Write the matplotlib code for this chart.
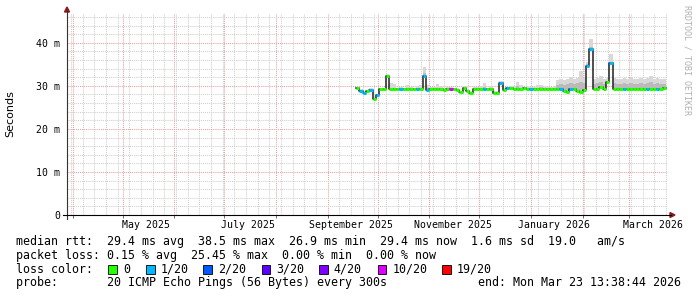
import datetime as dt
import numpy as np
import matplotlib
matplotlib.use("Agg")
import matplotlib.pyplot as plt
import matplotlib.dates as mdates
import matplotlib.transforms as mtrans
from matplotlib.lines import Line2D
from matplotlib.patches import Rectangle, Polygon

# ---- data ----
end_time = dt.datetime(2026, 3, 23, 13, 38, 44)
start_time = end_time - dt.timedelta(days=360)
first_sample = dt.datetime(2025, 9, 18)
step_days = 2

median_ms = [29.4, 28.9, 28.4, 28.8, 29.0, 26.9, 27.9, 29.2, 29.2, 32.4,
             29.3, 29.3, 29.3, 29.3, 29.2, 29.3, 29.3, 29.2, 29.3, 29.3,
             32.2, 29.1, 29.3, 29.3, 29.3, 29.2, 29.0, 29.3, 29.3, 29.3,
             29.0, 28.5, 29.5, 28.9, 28.3, 29.3, 29.3, 29.3, 29.3, 29.2,
             29.3, 28.4, 28.3, 30.7, 29.1, 29.4, 29.5, 29.3, 29.3, 29.3,
             29.4, 29.3, 29.3, 29.3, 29.2, 29.3, 29.3, 29.3, 29.3, 29.3,
             29.3, 29.2, 28.8, 28.6, 29.3, 29.3, 28.9, 28.6, 29.0, 34.7,
             38.5, 29.3, 29.3, 29.8, 29.3, 30.8, 35.2, 29.3, 29.3, 29.3,
             29.2, 29.3, 29.3, 29.3, 29.3, 29.3, 29.2, 29.3, 29.3, 29.3,
             29.3, 29.3, 29.4]

smoke_mid_ms = [29.5, 29.0, 28.6, 28.9, 29.1, 27.1, 28.0, 29.3, 29.3, 32.5,
                29.6, 29.5, 29.4, 29.4, 29.3, 29.5, 29.4, 29.3, 29.4, 29.5,
                32.9, 29.5, 29.4, 29.4, 29.6, 29.3, 29.1, 29.4, 29.4, 29.4,
                29.1, 28.6, 29.6, 29.0, 28.4, 29.4, 29.4, 29.5, 29.8, 29.3,
                29.4, 28.5, 28.4, 30.8, 29.3, 29.5, 29.6, 29.5, 29.9, 29.6,
                29.5, 29.5, 29.4, 29.5, 29.6, 29.7, 29.4, 29.4, 29.4, 29.5,
                30.3, 30.5, 30.2, 30.4, 30.7, 30.4, 30.6, 31.0, 30.6, 35.0,
                39.0, 30.5, 30.6, 30.9, 30.4, 31.2, 35.6, 30.6, 30.5, 30.4,
                30.6, 30.4, 30.7, 30.5, 30.4, 30.6, 30.5, 30.6, 30.8, 30.4,
                30.6, 30.4, 30.5]

smoke_hi_ms = [29.7, 29.2, 28.8, 29.1, 29.4, 27.3, 28.2, 29.5, 29.6, 32.7,
               30.6, 30.4, 29.6, 29.7, 29.6, 30.1, 29.7, 29.6, 29.8, 30.2,
               34.4, 30.3, 29.8, 29.7, 30.4, 29.7, 29.4, 29.7, 29.8, 29.6,
               29.4, 28.9, 29.9, 29.3, 28.7, 29.7, 29.8, 30.0, 30.6, 29.6,
               29.8, 28.8, 28.7, 31.1, 29.6, 29.8, 29.9, 30.0, 30.8, 30.3,
               29.8, 29.9, 29.7, 29.8, 30.2, 30.3, 29.8, 29.7, 29.8, 29.9,
               31.4, 31.6, 31.3, 31.7, 32.0, 31.5, 31.8, 33.5, 31.9, 35.6,
               40.8, 31.7, 31.8, 32.4, 31.6, 31.9, 37.4, 31.8, 31.7, 31.6,
               31.8, 31.5, 31.9, 31.7, 31.6, 31.9, 31.7, 31.8, 32.3, 31.6,
               31.9, 31.6, 31.5]

loss_pings = [0, 1, 1, 0, 1, 0, 1, 0, 0, 0,
              0, 0, 0, 1, 0, 0, 0, 0, 1, 0,
              1, 1, 0, 0, 0, 0, 0, 0, 10, 0,
              0, 0, 0, 0, 0, 0, 0, 0, 1, 0,
              0, 0, 0, 1, 0, 1, 0, 0, 0, 0,
              0, 0, 1, 0, 0, 0, 0, 0, 0, 0,
              0, 1, 0, 0, 1, 0, 0, 0, 0, 1,
              1, 0, 0, 0, 0, 0, 1, 0, 0, 0,
              1, 0, 0, 0, 0, 0, 0, 1, 0, 0,
              1, 0, 0]

loss_levels = [0, 1, 2, 3, 4, 10, 19]
loss_labels = ["0", "1/20", "2/20", "3/20", "4/20", "10/20", "19/20"]
loss_colors = ["#26ff00", "#00b8ff", "#0059ff", "#5e00ff", "#7e00ff", "#dd00ff", "#ff0000"]

month_labels = ["May 2025", "July 2025", "September 2025", "November 2025",
                "January 2026", "March 2026"]
label_dates = [dt.datetime(2025, 5, 15), dt.datetime(2025, 7, 15), dt.datetime(2025, 9, 15),
               dt.datetime(2025, 11, 15), dt.datetime(2026, 1, 15), dt.datetime(2026, 3, 15)]

W, H = 697, 297
mono = "DejaVu Sans Mono"


def fx(x):
    return x / W


def fy(y):
    return 1 - y / H


def loss_color(n):
    c = loss_colors[0]
    for lev, col in zip(loss_levels, loss_colors):
        if n >= lev:
            c = col
    return c


fig = plt.figure(figsize=(W / 100, H / 100), dpi=100, facecolor="white")
ax = fig.add_axes([fx(67), fy(215), 600 / W, 201 / H])
ax.set_facecolor("white")
for s in ax.spines.values():
    s.set_visible(False)

x0 = mdates.date2num(start_time)
x1 = mdates.date2num(end_time)
ax.set_xlim(x0, x1)
ax.set_ylim(0, 46.7)

# grid
months = [dt.datetime(2025, m, 1) for m in range(4, 13)] + [dt.datetime(2026, m, 1) for m in range(1, 4)]
ax.set_xticks(mdates.date2num(months))
ax.xaxis.set_minor_locator(mdates.WeekdayLocator(byweekday=mdates.MO))
ax.set_yticks([0, 10, 20, 30, 40])
ax.set_yticks([v for v in range(2, 47, 2) if v % 10], minor=True)
ax.set_yticklabels(["0", "10 m", "20 m", "30 m", "40 m"], family=mono, fontsize=7.1)
ax.tick_params(axis="y", which="both", length=0, pad=5)
ax.tick_params(axis="x", which="major", length=2, width=0.6, direction="out",
               color="#555555", labelbottom=False)
ax.tick_params(axis="x", which="minor", length=0)
ax.grid(which="minor", color="#cfcfcf", linestyle=(0, (1, 1)), linewidth=0.75)
ax.grid(which="major", color="#e8a0a0", linestyle=(0, (1, 1)), linewidth=0.75)
ax.set_axisbelow(True)

# samples
n = len(median_ms)
edges = [mdates.date2num(first_sample + dt.timedelta(days=step_days * i)) for i in range(n + 1)]
edges = np.minimum(edges, x1)
med = np.array(median_ms + [median_ms[-1]])
mid = np.array(smoke_mid_ms + [smoke_mid_ms[-1]])
hi = np.array(smoke_hi_ms + [smoke_hi_ms[-1]])

ax.fill_between(edges, med - 0.25, hi, step="post", color="#d8d8d8", lw=0, zorder=2)
ax.fill_between(edges, med - 0.15, mid, step="post", color="#bababa", lw=0, zorder=2)
ax.step(edges, med, where="post", color="#202020", lw=1.1, zorder=3)
ax.hlines(median_ms, edges[:-1], edges[1:], colors=[loss_color(v) for v in loss_pings],
          lw=2.2, zorder=4, capstyle="butt")

# axis lines + arrows
arrow_c = "#8b1a1a"
fig.add_artist(Line2D([fx(67), fx(67)], [fy(219), fy(11)], color="#333333", lw=0.8))
fig.add_artist(Polygon([[fx(67), fy(7)], [fx(64.5), fy(12)], [fx(69.5), fy(12)]],
                       closed=True, color=arrow_c, transform=fig.transFigure))
fig.add_artist(Line2D([fx(63), fx(671)], [fy(215), fy(215)], color="black", lw=0.8))
fig.add_artist(Polygon([[fx(675), fy(215)], [fx(670), fy(212.5)], [fx(670), fy(217.5)]],
                       closed=True, color=arrow_c, transform=fig.transFigure))

# month labels
tr = mtrans.blended_transform_factory(ax.transData, fig.transFigure)
for d, lab in zip(label_dates, month_labels):
    ax.text(mdates.date2num(d), fy(224.5), lab, transform=tr, ha="center", va="center",
            family=mono, fontsize=7.1, clip_on=False)

fig.text(fx(10), fy(113.5), "Seconds", rotation=90, ha="center", va="center",
         family="DejaVu Sans", fontsize=8)
fig.text(fx(686.5), fy(60), "RRDTOOL / TOBI OETIKER", rotation=270, ha="center", va="center",
         family=mono, fontsize=6, color="#b0b0b0")

# legend
fs = 8.37
fig.text(fx(16), fy(241.7),
         "median rtt:  29.4 ms avg  38.5 ms max  26.9 ms min  29.4 ms now  1.6 ms sd  19.0   am/s",
         family=mono, fontsize=fs, va="center")
fig.text(fx(16), fy(255.2),
         "packet loss: 0.15 % avg  25.45 % max  0.00 % min  0.00 % now",
         family=mono, fontsize=fs, va="center")
fig.text(fx(16), fy(269.3), "loss color:", family=mono, fontsize=fs, va="center")
box_x = [108, 146, 203.3, 261.7, 319.3, 377.7, 442.3]
text_x = [123, 160.7, 218.3, 276, 333.8, 392.3, 456.7]
for bx, tx, lab, col in zip(box_x, text_x, loss_labels, loss_colors):
    fig.add_artist(Rectangle((fx(bx), fy(273.5)), 8.5 / W, 8.5 / H, transform=fig.transFigure,
                             facecolor=col, edgecolor="black", lw=0.6))
    fig.text(fx(tx), fy(269.3), lab, family=mono, fontsize=fs, va="center")
fig.text(fx(16), fy(282.8),
         "probe:       20 ICMP Echo Pings (56 Bytes) every 300s             end: Mon Mar 23 13:38:44 2026",
         family=mono, fontsize=fs, va="center")

fig.savefig("out.png", dpi=100, facecolor="white")
